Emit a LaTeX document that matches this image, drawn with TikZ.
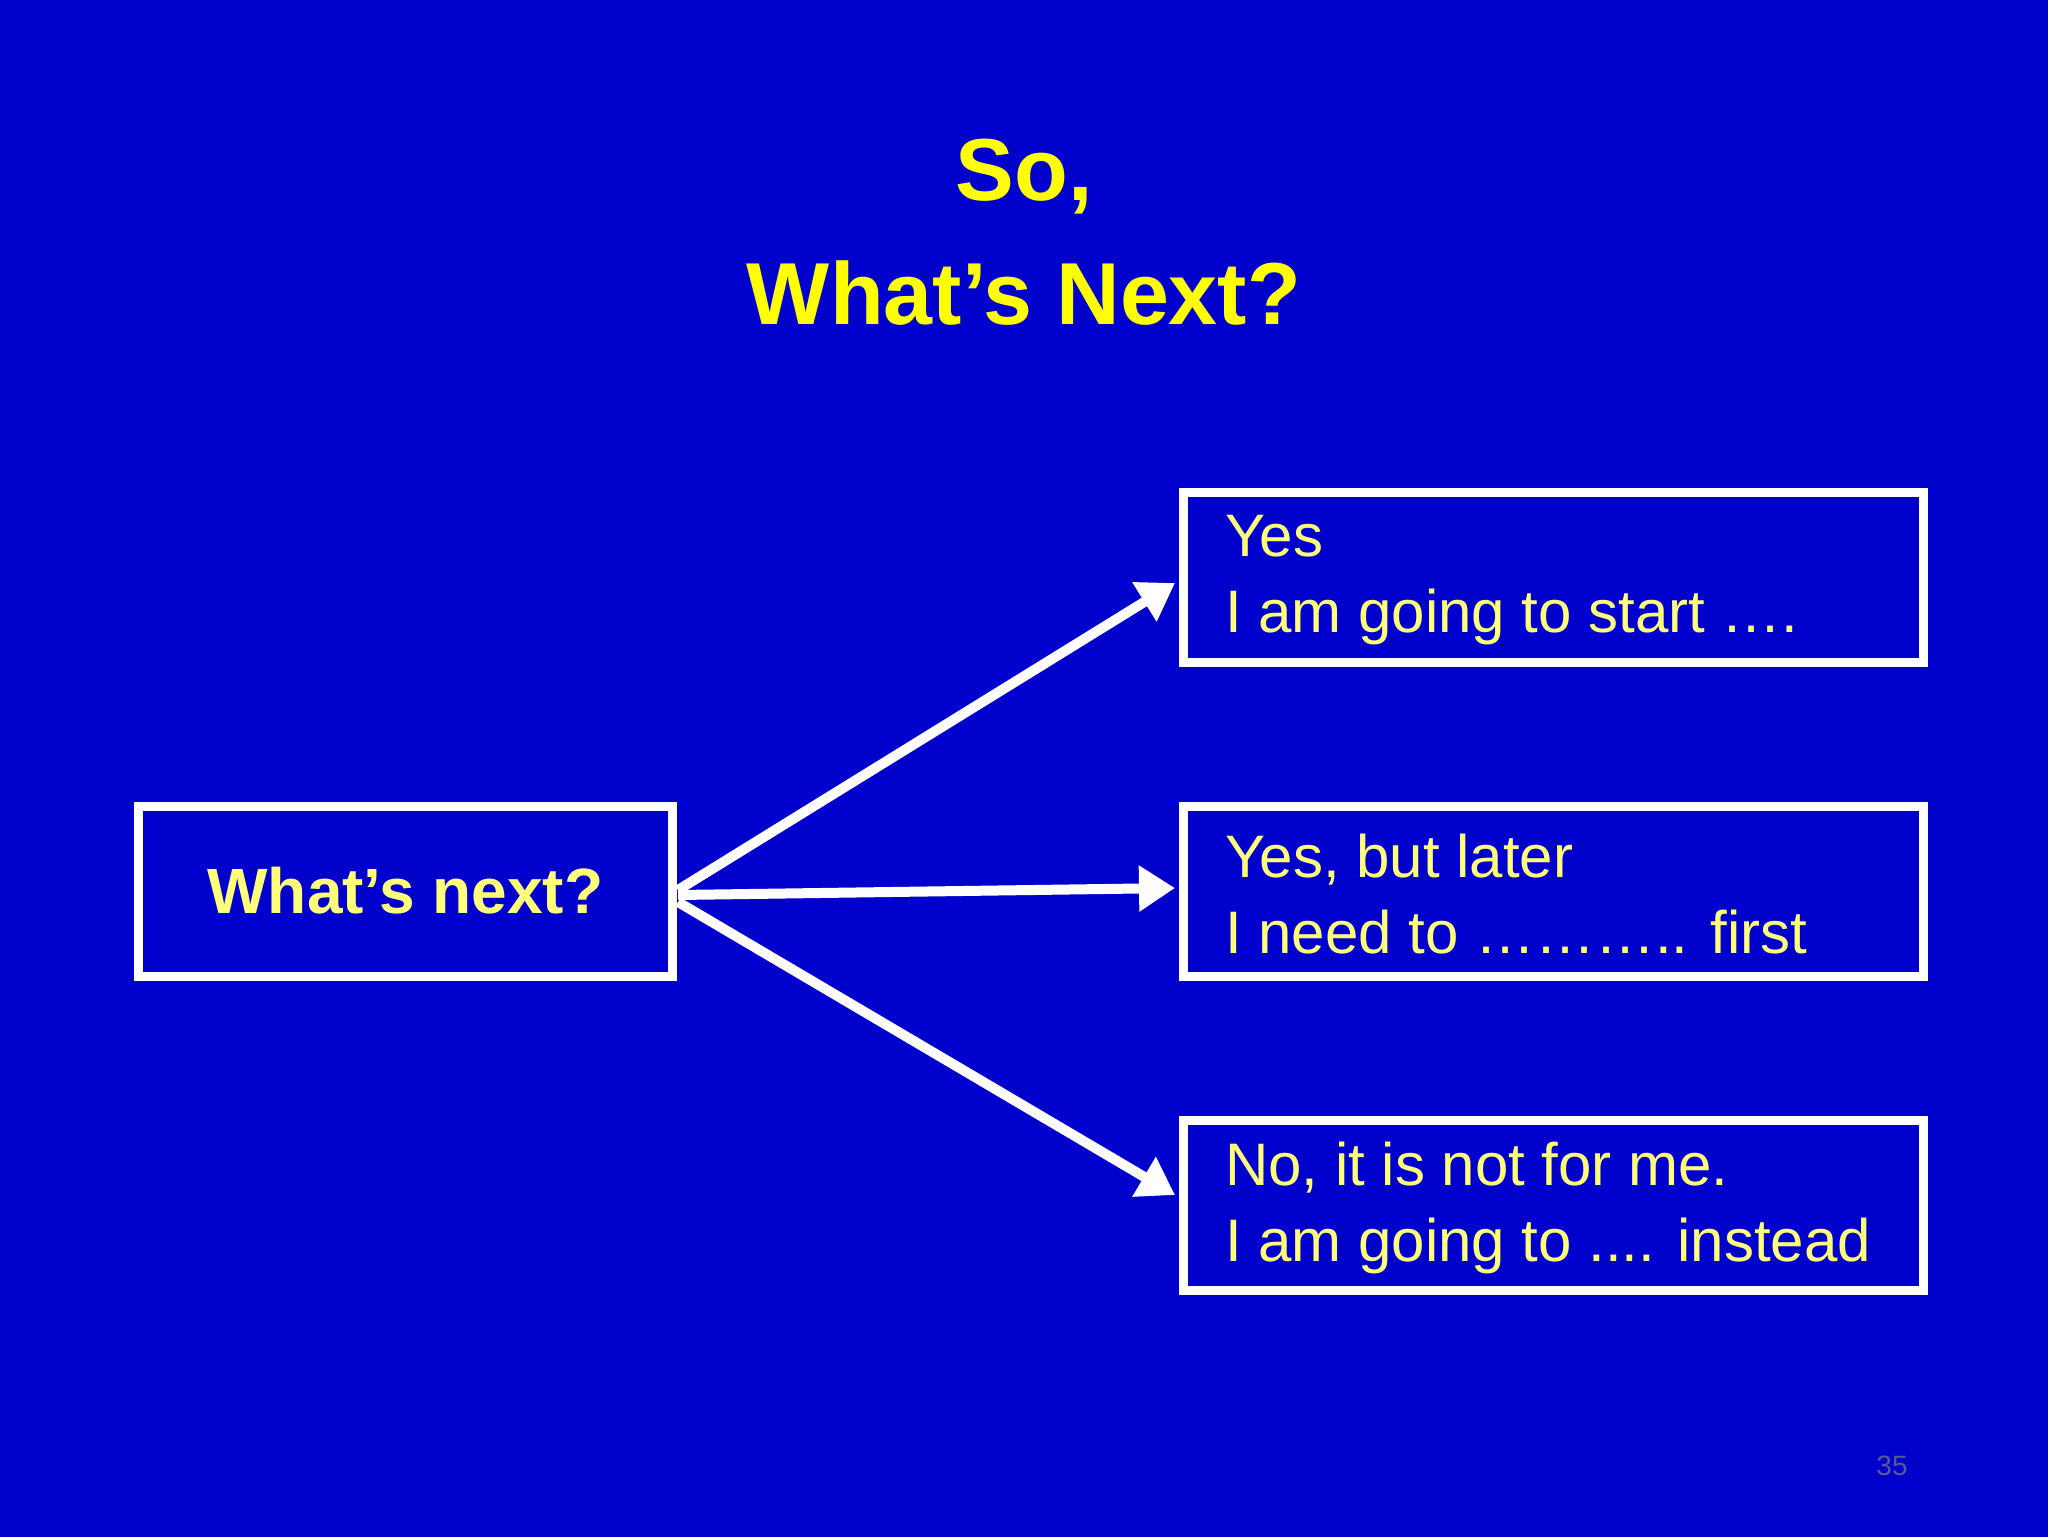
\documentclass[tikz,border=0pt]{standalone}
\usepackage{fontspec}
\setmainfont{Liberation Sans}
\usetikzlibrary{arrows.meta}
\definecolor{bg}{HTML}{0000CC}
\definecolor{ttl}{HTML}{FFFF00}
\definecolor{txt}{HTML}{FFFF7A}
\tikzset{box/.style={draw=white,line width=4.5pt,minimum width=370pt,minimum height=85pt,inner sep=0pt},
 arr/.style={draw=white,line width=5pt,-{Triangle[length=18pt,width=22pt]}},
 btxt/.style={text=txt,font=\fontsize{30}{38}\selectfont,align=left,anchor=west}}
\begin{document}
\begin{tikzpicture}[x=0.5pt,y=-0.5pt]
\useasboundingbox (0,0) rectangle (2048,1536);
\fill[bg] (-10,-10) rectangle (2058,1546);
\node[text=ttl,font=\bfseries\fontsize{44}{62}\selectfont,align=center] (title) at (1024,232) {So,\\What’s Next?};
\node[box,minimum width=267pt] (q) at (405.5,891) {};
\node[text=txt,font=\bfseries\fontsize{32}{36}\selectfont] at (q.center) {What’s next?};
\node[box] (a) at (1553.5,577.5) {};
\node[box] (b) at (1553.5,891) {};
\node[box] (c) at (1553.5,1205.5) {};
\node[btxt] at (1218,580) {Yes\\I am going to start ….};
\node[btxt] at (1218,894) {Yes, but later\\I need to ……….. first};
\node[btxt] at (1218,1208) {No, it is not for me.\\I am going to .... instead};
\coordinate (o1) at (678,890);
\coordinate (o2) at (678,895);
\coordinate (o3) at (678,902);
\draw[arr] (o1) -- (1175,583);
\draw[arr] (o2) -- (1175,888);
\draw[arr] (o3) -- (1175,1195);
\node[text=gray!70!bg,font=\fontsize{14}{16}\selectfont] (pg) at (1892,1466) {35};
\end{tikzpicture}
\end{document}
